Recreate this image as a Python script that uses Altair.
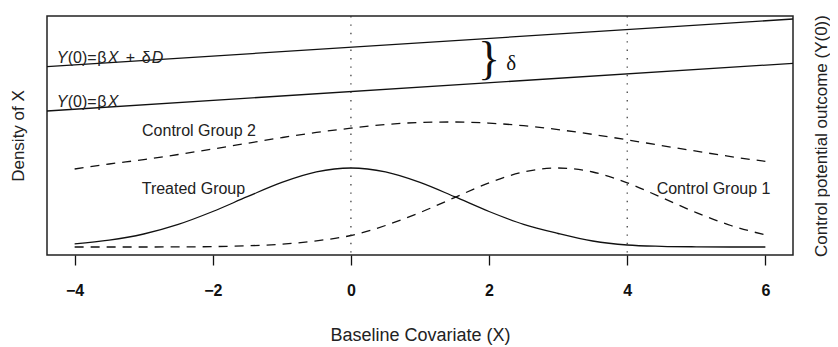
import altair as alt
import pandas as pd

# ---------------- data ----------------
x_grid = [-4.0, -3.5, -3.0, -2.5, -2.0, -1.5, -1.0, -0.5, 0.0, 0.5, 1.0,
          1.5, 2.0, 2.5, 3.0, 3.5, 4.0, 4.5, 5.0, 5.5, 6.0]
treated = [11.2, 14.8, 21.0, 30.6, 43.5, 58.3, 72.6, 83.1, 87.0, 83.1, 72.6,
           58.3, 43.5, 30.6, 21.5, 14.0, 10.0, 8.7, 8.2, 8.0, 8.0]
control1 = [8.0, 8.0, 8.0, 8.1, 8.4, 9.2, 10.8, 14.2, 19.5, 29.5, 42.4,
            57.4, 72.2, 83.0, 87.0, 83.0, 72.2, 57.4, 42.4, 29.5, 20.1]
control2 = [86.0, 91.0, 95.4, 100.5, 106.0, 111.7, 117.4, 122.6, 126.8, 130.5, 132.5,
            133.0, 131.9, 129.3, 125.4, 120.6, 115.2, 109.4, 103.8, 98.4, 93.6]

line_x = [-4.4, 6.4]
y0_line = [144.0, 191.7]          # Y(0) = beta X
y0_delta_line = [188.3, 236.0]    # Y(0) = beta X + delta D

vline_x = [0, 4]
x_ticks = [-4, -2, 0, 2, 4, 6]
x_domain = [-4.4, 6.4]
y_domain = [0, 239]

group_labels = ["Control Group 2", "Treated Group", "Control Group 1"]
group_label_x = [-2.2, -2.28, 5.25]
group_label_y = [124, 66, 66]

eq_upper = ["Y", "(0)=", "β", "X", "+", "δ", "D"]
eq_upper_italic = [True, False, False, True, False, False, True]
eq_upper_dx = [0, 11, 40.5, 51, 69, 85, 95]
eq_lower = ["Y", "(0)=", "β", "X"]
eq_lower_italic = [True, False, False, True]
eq_lower_dx = [0, 11, 40.5, 51]
eq_x = -4.26
eq_upper_y = 192.5
eq_lower_y = 148

brace_x, brace_y = 2.0, 181.5
delta_x, delta_y = 2.32, 185

FONT = "Liberation Sans"
SERIF = "Liberation Serif"
INK = "#111111"

# ---------------- helpers ----------------
x_axis = alt.Axis(values=x_ticks, title="Baseline Covariate (X)", tickSize=10,
                  tickWidth=1.3, tickColor=INK, domain=False, grid=False,
                  labelFont=FONT, labelFontSize=16, labelFontWeight="bold",
                  labelColor=INK, labelPadding=17, labelFlush=False,
                  titleFont=FONT, titleFontSize=18, titleFontWeight="normal",
                  titleColor="#222222", titleBaseline="alphabetic", titleY=85)


def xenc():
    return alt.X("x:Q", scale=alt.Scale(domain=x_domain, nice=False, zero=False),
                 axis=x_axis)


def yenc(axis=None):
    return alt.Y("y:Q", scale=alt.Scale(domain=y_domain, nice=False, zero=False),
                 axis=axis)


left_axis = alt.Axis(title="Density of X", labels=False, ticks=False, domain=False,
                     grid=False, titleAngle=270, titleX=-24, titleY=119.5,
                     titleBaseline="alphabetic", titleAlign="center",
                     titleFont=FONT, titleFontSize=17, titleFontWeight="normal",
                     titleColor="#222222")
right_axis = alt.Axis(orient="right", title="Control potential outcome (Y(0))",
                      labels=False, ticks=False, domain=False, grid=False,
                      titleAngle=270, titleX=33, titleY=119.5,
                      titleBaseline="alphabetic", titleAlign="center",
                      titleFont=FONT, titleFontSize=17, titleFontWeight="normal",
                      titleColor="#222222")

# ---------------- layers ----------------
layers = []

df_t = pd.DataFrame({"x": x_grid, "y": treated})
layers.append(alt.Chart(df_t).mark_line(color=INK, strokeWidth=1.3,
                                         interpolate="monotone")
              .encode(x=xenc(), y=yenc(left_axis)))

for vals in (control1, control2):
    df_c = pd.DataFrame({"x": x_grid, "y": vals})
    layers.append(alt.Chart(df_c).mark_line(color=INK, strokeWidth=1.3,
                                             interpolate="monotone",
                                             strokeDash=[9, 7])
                  .encode(x=xenc(), y=yenc()))

for vals in (y0_line, y0_delta_line):
    df_l = pd.DataFrame({"x": line_x, "y": vals})
    layers.append(alt.Chart(df_l).mark_line(color=INK, strokeWidth=1.3, clip=True)
                  .encode(x=xenc(), y=yenc()))

# right-hand axis carrier (invisible)
layers.append(alt.Chart(pd.DataFrame({"x": line_x, "y": y0_line}))
              .mark_line(opacity=0).encode(x=xenc(), y=yenc(right_axis)))

df_v = pd.DataFrame({"x": vline_x})
layers.append(alt.Chart(df_v).mark_rule(color="#333333", strokeWidth=1.2,
                                         strokeDash=[1.4, 7])
              .encode(x=xenc()))

df_lab = pd.DataFrame({"x": group_label_x, "y": group_label_y, "t": group_labels})
layers.append(alt.Chart(df_lab).mark_text(font=FONT, fontSize=16, color="#222222",
                                           align="center", baseline="middle")
              .encode(x=xenc(), y=yenc(), text="t:N"))

for texts, ital, dxs, yy in ((eq_upper, eq_upper_italic, eq_upper_dx, eq_upper_y),
                             (eq_lower, eq_lower_italic, eq_lower_dx, eq_lower_y)):
    for t, it, dx in zip(texts, ital, dxs):
        df_s = pd.DataFrame({"x": [eq_x], "y": [yy], "t": [t]})
        kw = dict(font=FONT, fontSize=16, color="#222222", align="left",
                  baseline="alphabetic", dx=dx)
        if it:
            kw["fontStyle"] = "italic"
        layers.append(alt.Chart(df_s).mark_text(**kw)
                      .encode(x=xenc(), y=yenc(), text="t:N"))

df_b = pd.DataFrame({"x": [brace_x], "y": [brace_y], "t": ["}"]})
layers.append(alt.Chart(df_b).mark_text(font=SERIF, fontSize=46, color=INK,
                                         align="center", baseline="alphabetic")
              .encode(x=xenc(), y=yenc(), text="t:N"))
df_d = pd.DataFrame({"x": [delta_x], "y": [delta_y], "t": ["δ"]})
layers.append(alt.Chart(df_d).mark_text(font=SERIF, fontSize=21, color=INK,
                                         align="center", baseline="alphabetic")
              .encode(x=xenc(), y=yenc(), text="t:N"))

chart = (alt.layer(*layers)
         .resolve_scale(y="independent")
         .resolve_axis(y="independent")
         .properties(width=746, height=239,
                     padding={"left": 39, "top": 8, "right": 37, "bottom": 92},
                     autosize=alt.AutoSizeParams(type="none"))
         .configure(background="white",
                    view=alt.ViewConfig(stroke="#222222", strokeWidth=1.5)))

chart.save("out.html", embed_options={"renderer": "svg", "actions": False})
